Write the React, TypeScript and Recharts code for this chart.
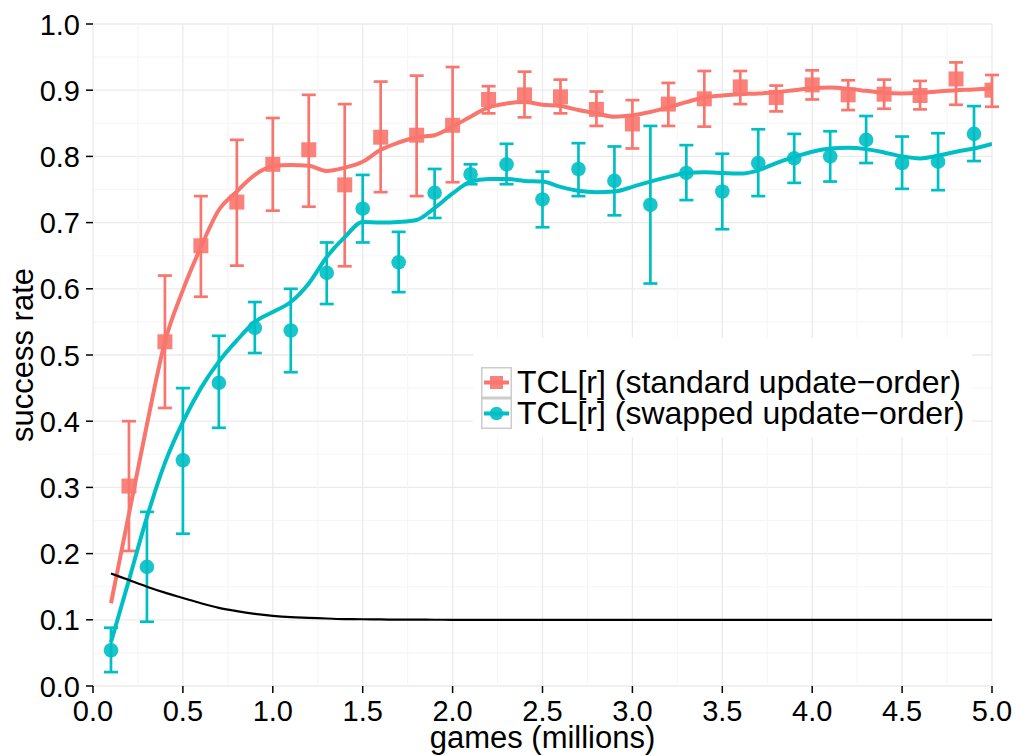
import React from "react";
import {
  ComposedChart,
  Line,
  Scatter,
  ErrorBar,
  XAxis,
  YAxis,
  CartesianGrid,
  Legend,
  Label,
} from "recharts";

const FONT = "'Liberation Sans', Arial, Helvetica, sans-serif";

const COLORS = {
  standard: "#F8766D",
  swapped: "#00BFC4",
  baseline: "#000000",
  gridMajor: "#ebebeb",
  gridMinor: "#f6f6f6",
  keyBorder: "#cccccc",
};

/* ── axis ticks ── */
const xTicks = [0, 0.25, 0.5, 0.75, 1, 1.25, 1.5, 1.75, 2, 2.25, 2.5, 2.75, 3, 3.25, 3.5, 3.75, 4, 4.25, 4.5, 4.75, 5];
const yTicks = [0, 0.05, 0.1, 0.15, 0.2, 0.25, 0.3, 0.35, 0.4, 0.45, 0.5, 0.55, 0.6, 0.65, 0.7, 0.75, 0.8, 0.85, 0.9, 0.95, 1];

/* ── TCL[r] standard update-order: measured points ── */
const stdGames = [0.2, 0.4, 0.6, 0.8, 1.0, 1.2, 1.4, 1.6, 1.8, 2.0, 2.2, 2.4, 2.6, 2.8, 3.0, 3.2, 3.4, 3.6, 3.8, 4.0, 4.2, 4.4, 4.6, 4.8, 5.0];
const stdRate = [0.302, 0.52, 0.665, 0.731, 0.788, 0.81, 0.757, 0.829, 0.832, 0.847, 0.886, 0.893, 0.89, 0.871, 0.849, 0.879, 0.887, 0.905, 0.889, 0.908, 0.893, 0.894, 0.892, 0.917, 0.9];
const stdLow = [0.204, 0.42, 0.588, 0.635, 0.718, 0.724, 0.634, 0.746, 0.74, 0.761, 0.865, 0.859, 0.865, 0.846, 0.812, 0.846, 0.845, 0.879, 0.868, 0.886, 0.87, 0.872, 0.871, 0.878, 0.875];
const stdHigh = [0.4, 0.62, 0.74, 0.825, 0.858, 0.893, 0.879, 0.913, 0.922, 0.935, 0.906, 0.928, 0.916, 0.898, 0.885, 0.911, 0.929, 0.929, 0.907, 0.93, 0.915, 0.916, 0.914, 0.942, 0.923];

/* ── TCL[r] swapped update-order: measured points ── */
const swpGames = [0.1, 0.3, 0.5, 0.7, 0.9, 1.1, 1.3, 1.5, 1.7, 1.9, 2.1, 2.3, 2.5, 2.7, 2.9, 3.1, 3.3, 3.5, 3.7, 3.9, 4.1, 4.3, 4.5, 4.7, 4.9];
const swpRate = [0.054, 0.18, 0.341, 0.458, 0.541, 0.537, 0.624, 0.721, 0.64, 0.745, 0.773, 0.788, 0.735, 0.781, 0.763, 0.727, 0.775, 0.747, 0.79, 0.797, 0.8, 0.825, 0.79, 0.792, 0.834];
const swpLow = [0.021, 0.097, 0.23, 0.39, 0.503, 0.474, 0.577, 0.67, 0.595, 0.707, 0.758, 0.758, 0.693, 0.74, 0.711, 0.608, 0.734, 0.69, 0.74, 0.76, 0.762, 0.79, 0.751, 0.749, 0.793];
const swpHigh = [0.088, 0.263, 0.45, 0.529, 0.58, 0.6, 0.67, 0.772, 0.686, 0.781, 0.788, 0.819, 0.777, 0.82, 0.815, 0.846, 0.817, 0.804, 0.841, 0.834, 0.838, 0.861, 0.83, 0.835, 0.876];

/* ── smoothed trend lines ── */
const smoothGames = [
  0.1, 0.2, 0.3, 0.4, 0.5, 0.6, 0.7, 0.8, 0.9, 1.0,
  1.1, 1.2, 1.3, 1.4, 1.5, 1.6, 1.7, 1.8, 1.9, 2.0,
  2.1, 2.2, 2.3, 2.4, 2.5, 2.6, 2.7, 2.8, 2.9, 3.0,
  3.1, 3.2, 3.3, 3.4, 3.5, 3.6, 3.7, 3.8, 3.9, 4.0,
  4.1, 4.2, 4.3, 4.4, 4.5, 4.6, 4.7, 4.8, 4.9, 5.0,
];
const stdSmooth = [
  0.125, 0.26, 0.395, 0.52, 0.598, 0.663, 0.719, 0.747, 0.772, 0.785,
  0.787, 0.786, 0.778, 0.783, 0.792, 0.81, 0.821, 0.829, 0.832, 0.845,
  0.86, 0.874, 0.88, 0.882, 0.878, 0.876, 0.87, 0.865, 0.86, 0.862,
  0.867, 0.874, 0.882, 0.889, 0.892, 0.894, 0.895, 0.897, 0.9, 0.903,
  0.904, 0.902, 0.899, 0.896, 0.895, 0.896, 0.898, 0.9, 0.901, 0.903,
];
const swpSmooth = [
  0.066, 0.16, 0.255, 0.337, 0.399, 0.45, 0.49, 0.522, 0.55, 0.565,
  0.58, 0.608, 0.648, 0.678, 0.701, 0.7, 0.701, 0.704, 0.722, 0.744,
  0.762, 0.766, 0.766, 0.763, 0.762, 0.754, 0.748, 0.746, 0.747, 0.754,
  0.762, 0.769, 0.775, 0.776, 0.775, 0.774, 0.779, 0.79, 0.799, 0.807,
  0.812, 0.813, 0.811, 0.806, 0.8, 0.797, 0.801, 0.807, 0.812, 0.819,
];

/* ── black reference curve ── */
const refGames = [0.1, 0.2, 0.3, 0.4, 0.5, 0.6, 0.7, 0.8, 0.9, 1.0, 1.1, 1.2, 1.3, 1.4, 1.5, 1.6, 1.7, 1.8, 1.9, 2.0, 5.0];
const refRate = [0.17, 0.16, 0.15, 0.141, 0.133, 0.125, 0.118, 0.113, 0.109, 0.106, 0.104, 0.103, 0.102, 0.101, 0.1008, 0.1005, 0.1003, 0.1002, 0.1001, 0.1, 0.1];

const legendLabels = ["TCL[r] (standard update\u2212order)", "TCL[r] (swapped update\u2212order)"];

// error bars take offsets below/above the point, not absolute bounds
const points = (xs: number[], ys: number[], lo: number[], hi: number[]) =>
  xs.map((x, i) => ({ x, y: ys[i], err: [ys[i] - lo[i], hi[i] - ys[i]] }));
const series = (xs: number[], ys: number[]) => xs.map((x, i) => ({ x, y: ys[i] }));

const stdPoints = points(stdGames, stdRate, stdLow, stdHigh);
const swpPoints = points(swpGames, swpRate, swpLow, swpHigh);
const stdLine = series(smoothGames, stdSmooth);
const swpLine = series(smoothGames, swpSmooth);
const refLine = series(refGames, refRate);

const TICK_LEN = 7;
const X_TICK_MARGIN = 2;
const Y_TICK_MARGIN = 6;

const isMajor = (v: number, per: number) => Math.abs(v * per - Math.round(v * per)) < 1e-6;

function XTick(props: any) {
  const { x, y, payload } = props;
  const v = payload.value as number;
  if (!isMajor(v, 2)) return <g />;
  return (
    <g>
      <line x1={x} x2={x} y1={y - X_TICK_MARGIN - TICK_LEN} y2={y - X_TICK_MARGIN} stroke="#000" strokeWidth={1.5} />
      <text x={x} y={y} dy={26} textAnchor="middle" fontSize={29} fontFamily={FONT} fill="#000">
        {v.toFixed(1)}
      </text>
    </g>
  );
}

function YTick(props: any) {
  const { x, y, payload } = props;
  const v = payload.value as number;
  if (!isMajor(v, 10)) return <g />;
  return (
    <g>
      <line x1={x + Y_TICK_MARGIN} x2={x + Y_TICK_MARGIN + TICK_LEN} y1={y} y2={y} stroke="#000" strokeWidth={1.5} />
      <text x={x} y={y} dy={10.5} textAnchor="end" fontSize={29} fontFamily={FONT} fill="#000">
        {v.toFixed(1)}
      </text>
    </g>
  );
}

// ticks alternate major / minor, so grid lines do too
const gridLine = (p: any) => (
  <line
    key={p.key}
    x1={p.x1}
    y1={p.y1}
    x2={p.x2}
    y2={p.y2}
    stroke={p.index % 2 === 0 ? COLORS.gridMajor : COLORS.gridMinor}
    strokeWidth={p.index % 2 === 0 ? 1.3 : 1.1}
  />
);

const XTitle = (props: any) => {
  const vb = props.viewBox;
  return (
    <text x={vb.x + vb.width / 2} y={vb.y + vb.height - 8} textAnchor="middle" fontSize={31} fontFamily={FONT} fill="#000">
      games (millions)
    </text>
  );
};

const YTitle = (props: any) => {
  const vb = props.viewBox;
  const cx = vb.x + 33;
  const cy = vb.y + vb.height / 2;
  return (
    <text x={cx} y={cy} transform={`rotate(-90 ${cx} ${cy})`} textAnchor="middle" fontSize={31} fontFamily={FONT} fill="#000">
      success rate
    </text>
  );
};

const Square = (p: any) => (
  <rect x={p.cx - 7.5} y={p.cy - 7.5} width={15} height={15} fill={COLORS.standard} fillOpacity={0.9} />
);
const Dot = (p: any) => <circle cx={p.cx} cy={p.cy} r={7.3} fill={COLORS.swapped} fillOpacity={0.9} />;

function KeyIcon({ color, square }: { color: string; square: boolean }) {
  return (
    <svg width={31} height={31} style={{ display: "block", flex: "none" }}>
      <rect x={0.75} y={0.75} width={29.5} height={29.5} fill="#fff" stroke={COLORS.keyBorder} strokeWidth={1.5} />
      <line x1={3} x2={28} y1={15.5} y2={15.5} stroke={color} strokeWidth={4} />
      {square ? (
        <rect x={9} y={9} width={13} height={13} fill={color} fillOpacity={0.9} />
      ) : (
        <circle cx={15.5} cy={15.5} r={6.8} fill={color} fillOpacity={0.9} />
      )}
    </svg>
  );
}

function LegendBox() {
  const colors = [COLORS.standard, COLORS.swapped];
  return (
    <div
      style={{
        background: "#fff",
        width: 499,
        height: 99,
        boxSizing: "border-box",
        paddingTop: 29,
        paddingLeft: 8,
        fontFamily: FONT,
        fontSize: 32,
        color: "#000",
      }}
    >
      {legendLabels.map((label, i) => (
        <div key={label} style={{ display: "flex", alignItems: "center", height: 31, lineHeight: "31px" }}>
          <KeyIcon color={colors[i]} square={i === 0} />
          <span style={{ marginLeft: 5, whiteSpace: "nowrap" }}>{label}</span>
        </div>
      ))}
    </div>
  );
}

export default function App() {
  return (
    <div style={{ position: "absolute", left: 0, top: 0, background: "#fff" }}>
      <ComposedChart width={1016} height={756} margin={{ top: 24, right: 24, bottom: 0, left: 0 }}>
        <CartesianGrid horizontal={gridLine} vertical={gridLine} />
        <XAxis
          dataKey="x"
          type="number"
          domain={[0, 5]}
          ticks={xTicks}
          interval={0}
          allowDataOverflow
          axisLine={false}
          tickLine={false}
          tickSize={TICK_LEN}
          tickMargin={X_TICK_MARGIN}
          height={70}
          tick={<XTick />}
        >
          <Label content={XTitle} />
        </XAxis>
        <YAxis
          dataKey="y"
          type="number"
          domain={[0, 1]}
          ticks={yTicks}
          interval={0}
          allowDataOverflow
          axisLine={false}
          tickLine={false}
          tickSize={TICK_LEN}
          tickMargin={Y_TICK_MARGIN}
          width={93}
          tick={<YTick />}
        >
          <Label content={YTitle} />
        </YAxis>
        <Scatter data={stdPoints} dataKey="y" shape={Square} isAnimationActive={false} legendType="none">
          <ErrorBar dataKey="err" direction="y" width={7} stroke={COLORS.standard} strokeWidth={2.7} isAnimationActive={false} />
        </Scatter>
        <Scatter data={swpPoints} dataKey="y" shape={Dot} isAnimationActive={false} legendType="none">
          <ErrorBar dataKey="err" direction="y" width={7} stroke={COLORS.swapped} strokeWidth={2.7} isAnimationActive={false} />
        </Scatter>
        <Line data={stdLine} dataKey="y" type="monotone" stroke={COLORS.standard} strokeWidth={4} dot={false} activeDot={false} isAnimationActive={false} />
        <Line data={swpLine} dataKey="y" type="monotone" stroke={COLORS.swapped} strokeWidth={4} dot={false} activeDot={false} isAnimationActive={false} />
        <Line data={refLine} dataKey="y" type="monotone" stroke={COLORS.baseline} strokeWidth={2.2} dot={false} activeDot={false} isAnimationActive={false} />
        <Legend
          layout="vertical"
          align="center"
          verticalAlign="middle"
          content={() => <LegendBox />}
          wrapperStyle={{ left: 473, top: 338, width: 499, height: 99 }}
        />
      </ComposedChart>
    </div>
  );
}
